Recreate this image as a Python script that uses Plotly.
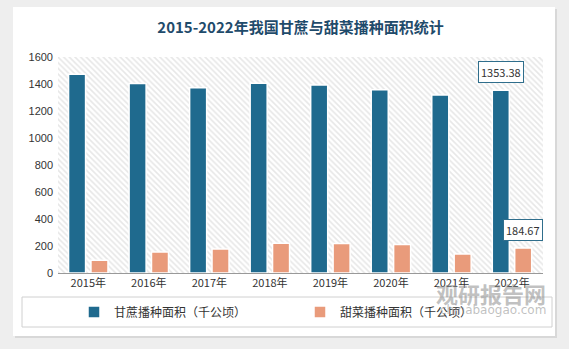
import plotly.graph_objects as go

years = ["2015年", "2016年", "2017年", "2018年", "2019年", "2020年", "2021年", "2022年"]
sugarcane = [1473.0, 1402.8, 1371.6, 1405.6, 1391.8, 1358.0, 1318.0, 1353.38]
beet = [95.0, 156.0, 178.0, 220.0, 218.0, 212.0, 141.0, 184.67]
name_cane = "甘蔗播种面积（千公顷）"
name_beet = "甜菜播种面积（千公顷）"
title = "2015-2022年我国甘蔗与甜菜播种面积统计"

FONT = "Noto Sans CJK SC"
BLUE = "#1F6A8E"
ORANGE = "#E99B7B"

fig = go.Figure()

# hatched plot background
fig.add_trace(go.Bar(
    x=[0.5], y=[1600], width=[1], xaxis="x", yaxis="y",
    marker=dict(color="white", line=dict(width=0),
                pattern=dict(shape="\\", fgcolor="#cfcfcf", bgcolor="white",
                             size=4, solidity=0.4)),
    hoverinfo="skip", showlegend=False,
))

fig.add_trace(go.Bar(
    x=years, y=sugarcane, name=name_cane, xaxis="x2", yaxis="y", legend="legend",
    marker=dict(color=BLUE, line=dict(color="white", width=1.5)),
))
fig.add_trace(go.Bar(
    x=years, y=beet, name=name_beet, xaxis="x2", yaxis="y", legend="legend2",
    marker=dict(color=ORANGE, line=dict(color="white", width=1.5)),
))

# value labels on the last category
for vals, shift in ((sugarcane, -11), (beet, 11)):
    fig.add_annotation(
        x=years[-1], y=vals[-1], xref="x2", yref="y",
        text=f"{vals[-1]:.2f}", showarrow=False,
        yanchor="bottom", yshift=7, xshift=shift,
        font=dict(family=FONT, size=11, color="#333333"),
        bgcolor="white", bordercolor="#2F6E8C", borderwidth=1, borderpad=2,
    )

# watermark
fig.add_annotation(x=(548 - 58) / 485, y=(276 - 278) / 216, xref="paper", yref="paper",
                   text="<b>观研报告网</b>",
                   showarrow=False, xanchor="right", yanchor="top",
                   font=dict(family=FONT, size=22, color="rgba(140,140,140,0.55)"))
fig.add_annotation(x=(548 - 58) / 485, y=(276 - 304) / 216, xref="paper", yref="paper",
                   text="chinabaogao.com",
                   showarrow=False, xanchor="right", yanchor="top",
                   font=dict(family="DejaVu Sans", size=12, color="rgba(140,140,140,0.55)"))

# card and legend box
fig.add_shape(type="rect", xref="paper", yref="paper", layer="below",
              x0=(15 - 58) / 485, x1=(557 - 58) / 485,
              y0=(276 - 341) / 216, y1=(276 - 12) / 216,
              fillcolor="#d8d8d8", line=dict(width=0))
fig.add_shape(type="rect", xref="paper", yref="paper", layer="below",
              x0=(13 - 58) / 485, x1=(555 - 58) / 485,
              y0=(276 - 339) / 216, y1=(276 - 10) / 216,
              fillcolor="white", line=dict(width=0))
fig.add_shape(type="rect", xref="paper", yref="paper", layer="below",
              x0=(22 - 58) / 485, x1=(552 - 58) / 485,
              y0=(276 - 330) / 216, y1=(276 - 300) / 216,
              fillcolor="rgba(0,0,0,0)", line=dict(color="#d0d0d0", width=1))

leg_common = dict(orientation="h", xanchor="left", y=(276 - 315) / 216, yanchor="middle",
                  bgcolor="rgba(0,0,0,0)", itemwidth=30,
                  font=dict(family=FONT, size=12, color="#333333"))

fig.update_layout(
    width=569, height=349,
    margin=dict(l=58, r=26, t=57, b=76),
    paper_bgcolor="#eeeeee", plot_bgcolor="white",
    barmode="group", bargap=0.26, bargroupgap=0.24,
    title=dict(text=f"<b>{title}</b>", x=0.5, xref="paper", xanchor="center",
               y=1 - 28 / 349, yanchor="middle",
               font=dict(family=FONT, size=15, color="#1F4B6B")),
    font=dict(family=FONT, size=11, color="#333333"),
    xaxis=dict(range=[0, 1], visible=False, fixedrange=True),
    xaxis2=dict(overlaying="x", anchor="y", showline=True, linecolor="#999999",
                linewidth=1, ticks="", showgrid=False,
                tickfont=dict(family=FONT, size=11, color="#333333")),
    yaxis=dict(range=[0, 1600], dtick=200, showgrid=False, zeroline=False,
               showline=False, ticks="", ticklabelstandoff=4,
               tickfont=dict(family="Liberation Sans", size=11, color="#333333")),
    legend=dict(x=(74 - 58) / 485, **leg_common),
    legend2=dict(x=(300 - 58) / 485, **leg_common),
    showlegend=True,
)

fig.write_html("out.html")
